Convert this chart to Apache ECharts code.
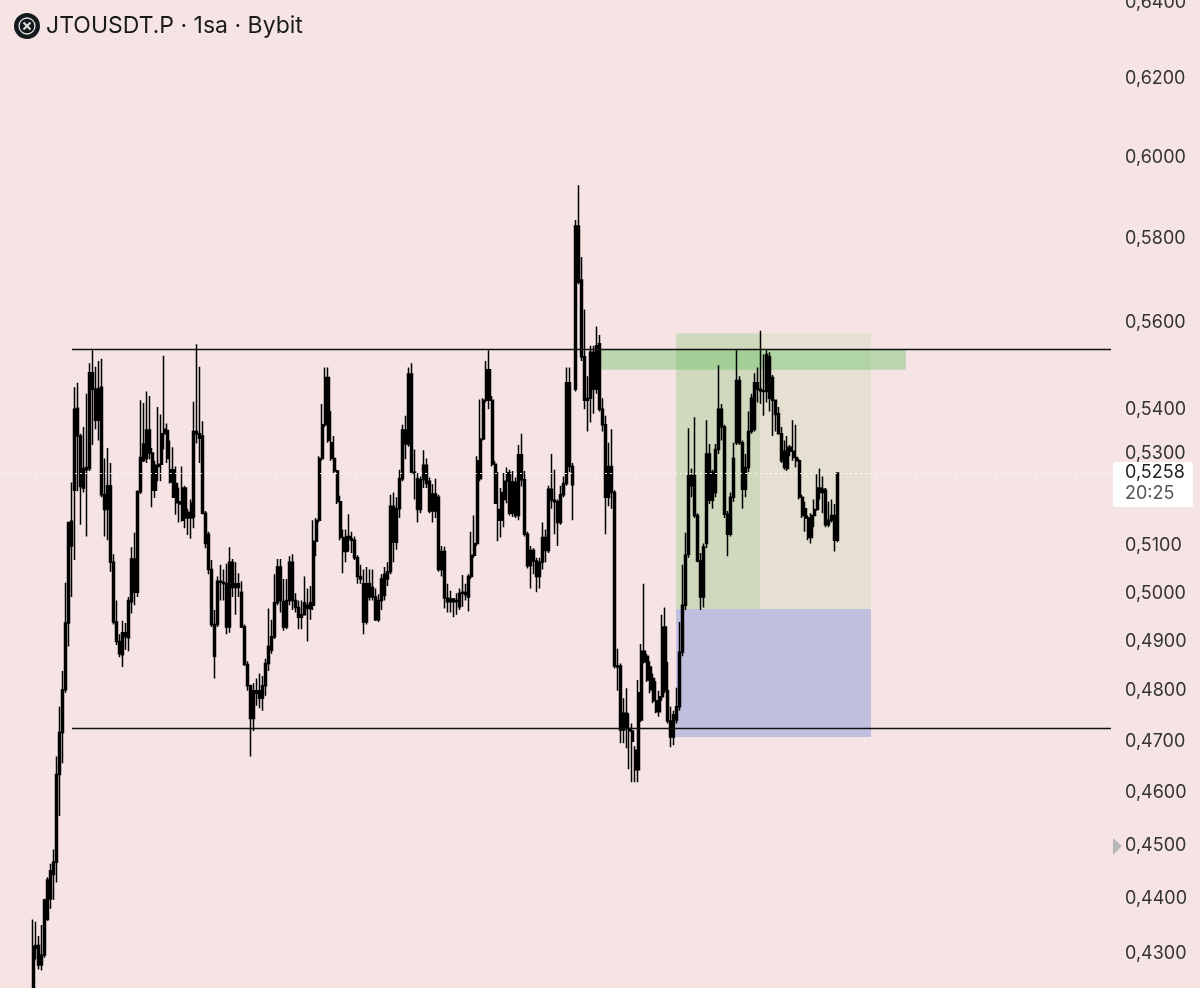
<!DOCTYPE html>
<html><head><meta charset="utf-8">
<style>html,body{margin:0;padding:0;background:#f6e4e4}#c{width:1200px;height:988px}</style>
<script src="https://cdn.jsdelivr.net/npm/echarts@6/dist/echarts.min.js"></script>
</head><body><div id="c"></div>
<script>
const title = 'JTOUSDT.P · 1sa · Bybit';
const tickValues = [0.64,0.62,0.60,0.58,0.56,0.54,0.53,0.51,0.50,0.49,0.48,0.47,0.46,0.45,0.44,0.43];
const lastPrice = 0.5258;
const lastPriceLabel = '0,5258';
const countdown = '20:25';
const resistance = 0.5538;
const support = 0.4726;
const opens = [
.4200,.4315,.4315,.4298,.4298,.4362,.4400,.4445,.4468,.4635,
.4717,.4802,.4938,.5100,.5220,.5340,.5340,.5268,.5270,.5268,
.5445,.5445,.5375,.5450,.5210,.5178,.5230,.5065,.4940,.4900,
.4873,.4918,.4908,.4982,.5072,.5002,.5217,.5285,.5290,.5353,
.5302,.5220,.5277,.5277,.5345,.5352,.5265,.5265,.5235,.5195,
.5155,.5225,.5172,.5160,.5162,.5350,.5345,.5340,.5170,.5125,
.5050,.4935,.4935,.5025,.5023,.5020,.4930,.5065,.5012,.5020,
.5002,.4930,.4853,.4810,.4745,.4795,.4800,.4785,.4810,.4855,
.4882,.4910,.4980,.5055,.4982,.4930,.4985,.5065,.4985,.4970,
.4950,.4955,.4975,.4968,.4975,.5110,.5155,.5290,.5365,.5472,
.5325,.5290,.5262,.5195,.5118,.5088,.5120,.5115,.5112,.5075,
.5035,.5020,.4940,.5020,.4992,.4992,.4945,.4985,.4995,.5030,
.5045,.5185,.5108,.5180,.5245,.5353,.5322,.5480,.5260,.5245,
.5178,.5243,.5275,.5240,.5175,.5212,.5205,.5050,.5088,.4990,
.4982,.4988,.4982,.4972,.5000,.5002,.4992,.5035,.5080,.5105,.5245,
.5333,.5420,.5490,.5420,.5277,.5178,.5155,.5200,.5240,.5258,
.5170,.5238,.5165,.5298,.5243,.5125,.5058,.5090,.5068,.5035,
.5065,.5118,.5090,.5222,.5198,.5195,.5150,.5210,.5235,.5460,
.5272,.5445,.5830,.5700,.5520,.5420,.5425,.5530,.5445,.5550,
.5400,.5365,.5205,.5272,.5215,.4850,.4850,.4722,.4755,
.4725,.4720,.4682,.4644,.4742,.4880,.4870,.4848,.4825,.4780,
.4758,.4788,.4930,.4800,.4740,.4708,.4742,.4768,.4878,.4975,
.5082,.5252,.5165,.5165,.5068,.4992,.5105,.5300,.5198,.5215,
.5310,.5400,.5360,.5168,.5125,.5205,.5325,.5465,.5325,.5222,
.5270,.5350,.5355,.5460,.5445,.5442,.5440,.5520,.5472,.5420,
.5390,.5345,.5270,.5268,.5315,.5306,.5292,.5285,.5205,.5180,
.5160,.5118,.5165,.5178,.5225,.5215,.5220,.5145,.5155,.5165,.5112];
const closes = [
.4313,.4310,.4280,.4280,.4398,.4435,.4452,.4468,.4635,.4717,
.4802,.4938,.5150,.5153,.5400,.5402,.5228,.5225,.5265,.5483,
.5483,.5375,.5447,.5210,.5178,.5230,.5065,.4940,.4900,.4875,
.4918,.4910,.4985,.5072,.5002,.5217,.5292,.5322,.5353,.5302,
.5220,.5275,.5272,.5345,.5355,.5290,.5238,.5205,.5193,.5190,
.5225,.5160,.5160,.5192,.5350,.5345,.5335,.5170,.5105,.5050,
.4935,.4870,.5025,.5023,.5020,.4930,.5065,.5012,.5020,.5012,
.4930,.4853,.4810,.4745,.4800,.4800,.4785,.4810,.4855,.4890,
.4910,.4980,.5055,.4985,.4930,.4985,.5065,.4985,.4970,.4950,
.4955,.4980,.4968,.4980,.5110,.5155,.5290,.5365,.5472,.5330,
.5290,.5262,.5195,.5118,.5088,.5120,.5115,.5112,.5075,.5035,
.5030,.4940,.5020,.4992,.5012,.4945,.4985,.5030,.5040,.5045,
.5185,.5108,.5180,.5245,.5353,.5322,.5480,.5260,.5258,.5178,
.5243,.5275,.5235,.5175,.5212,.5175,.5050,.5088,.4990,.4982,
.4988,.4982,.4985,.5000,.5002,.4997,.5035,.5080,.5105,.5285,.5333,
.5420,.5490,.5420,.5277,.5192,.5155,.5215,.5240,.5258,.5170,
.5238,.5165,.5298,.5243,.5125,.5058,.5090,.5068,.5035,.5065,
.5118,.5090,.5222,.5198,.5195,.5150,.5210,.5235,.5460,.5272,
.5232,.5830,.5695,.5520,.5420,.5425,.5530,.5445,.5545,.5400,
.5365,.5205,.5272,.5215,.4850,.4848,.4722,.4755,.4725,
.4720,.4700,.4644,.4796,.4880,.4858,.4822,.4802,.4780,.4758,
.4788,.4930,.4800,.4740,.4708,.4752,.4768,.4878,.4975,.5080,
.5252,.5230,.5252,.5068,.4992,.5098,.5300,.5198,.5260,.5310,
.5400,.5360,.5168,.5125,.5205,.5290,.5465,.5325,.5222,.5270,
.5350,.5425,.5460,.5445,.5442,.5440,.5525,.5425,.5420,.5388,
.5345,.5285,.5306,.5315,.5306,.5292,.5285,.5205,.5165,.5160,
.5118,.5165,.5178,.5225,.5215,.5222,.5145,.5155,.5165,.5112,.5258];
const lows = [
.4180,.4290,.4272,.4270,.4293,.4360,.4382,.4398,.4430,.4555,
.4657,.4796,.4890,.4992,.5070,.5218,.5145,.5215,.5120,.5262,
.5320,.5355,.5330,.5205,.5120,.5112,.5045,.4935,.4893,.4868,
.4848,.4883,.4880,.4958,.4975,.4992,.5212,.5282,.5280,.5288,
.5183,.5203,.5240,.5240,.5310,.5280,.5235,.5205,.5167,.5150,
.5152,.5138,.5123,.5115,.5138,.5323,.5280,.5168,.5095,.5040,
.4930,.4825,.4930,.4985,.4985,.4915,.4918,.4992,.4955,.4992,
.4928,.4850,.4800,.4670,.4720,.4770,.4765,.4760,.4790,.4840,
.4875,.4905,.4975,.4960,.4922,.4925,.4975,.4965,.4960,.4925,
.4925,.4960,.4900,.4945,.4965,.5078,.5150,.5285,.5360,.5325,
.5285,.5258,.5190,.5112,.5042,.5065,.5088,.5085,.5070,.5020,
.5020,.4915,.4935,.4985,.4985,.4942,.4940,.4965,.4985,.5015,
.5040,.5065,.5092,.5160,.5240,.5288,.5316,.5255,.5200,.5150,
.5170,.5225,.5225,.5170,.5150,.5160,.5045,.5035,.4968,.4960,
.4960,.4950,.4955,.4965,.4972,.4985,.4962,.5030,.5075,.5100,.5240,
.5330,.5415,.5400,.5272,.5190,.5110,.5118,.5140,.5192,.5165,
.5162,.5160,.5155,.5228,.5120,.5052,.5010,.5040,.5002,.5010,
.5050,.5065,.5085,.5180,.5125,.5100,.5145,.5205,.5230,.5260,
.5155,.5440,.5690,.5510,.5400,.5350,.5370,.5390,.5435,.5395,
.5350,.5125,.5185,.5180,.4845,.4800,.4696,.4696,.4686,
.4645,.4620,.4620,.4620,.4738,.4855,.4818,.4795,.4775,.4755,
.4748,.4780,.4795,.4735,.4688,.4692,.4735,.4760,.4870,.4965,
.5075,.5205,.5160,.5065,.4965,.4970,.5095,.5190,.5180,.5205,
.5300,.5330,.5160,.5078,.5120,.5195,.5320,.5320,.5180,.5205,
.5260,.5345,.5350,.5415,.5412,.5385,.5415,.5395,.5340,.5350,
.5345,.5280,.5265,.5262,.5295,.5285,.5270,.5200,.5160,.5130,
.5112,.5105,.5140,.5175,.5200,.5170,.5140,.5140,.5150,.5088,.5108];
const highs = [
.4362,.4358,.4332,.4352,.4400,.4440,.4465,.4492,.4670,.4768,
.4840,.5022,.5150,.5237,.5450,.5460,.5345,.5360,.5435,.5505,
.5535,.5497,.5510,.5515,.5290,.5313,.5280,.5082,.4985,.4915,
.4943,.4938,.4992,.5097,.5128,.5220,.5420,.5414,.5440,.5430,
.5313,.5285,.5405,.5388,.5522,.5368,.5330,.5315,.5272,.5226,
.5272,.5230,.5180,.5200,.5417,.5549,.5497,.5373,.5175,.5130,
.5070,.4965,.5035,.5060,.5050,.5062,.5097,.5072,.5065,.5042,
.5025,.4935,.4860,.4812,.4815,.4825,.4835,.4830,.4865,.4968,
.4945,.5040,.5072,.5072,.5030,.5030,.5078,.5082,.5000,.4985,
.4985,.5035,.5010,.5015,.5155,.5160,.5295,.5412,.5495,.5495,
.5396,.5340,.5265,.5208,.5135,.5135,.5168,.5130,.5120,.5080,
.5060,.5050,.5055,.5050,.5050,.5010,.4998,.5040,.5055,.5065,
.5210,.5215,.5205,.5265,.5365,.5385,.5495,.5505,.5310,.5258,
.5250,.5308,.5290,.5248,.5233,.5245,.5210,.5100,.5098,.5020,
.5005,.4990,.5000,.5010,.5038,.5020,.5040,.5130,.5165,.5295,.5422,
.5425,.5510,.5535,.5430,.5285,.5260,.5225,.5258,.5270,.5265,
.5262,.5248,.5320,.5345,.5262,.5130,.5100,.5095,.5075,.5075,
.5150,.5135,.5230,.5300,.5265,.5200,.5230,.5250,.5495,.5495,
.5280,.5845,.5930,.5755,.5630,.5475,.5545,.5545,.5590,.5570,
.5425,.5385,.5325,.5355,.5220,.4885,.4855,.4785,.4805,
.4755,.4735,.4690,.4822,.4895,.5020,.4875,.4860,.4835,.4820,
.4800,.4955,.4970,.4858,.4768,.4760,.4806,.4940,.5060,.5128,
.5357,.5268,.5382,.5170,.5085,.5105,.5375,.5322,.5265,.5322,
.5500,.5412,.5365,.5175,.5215,.5325,.5535,.5475,.5330,.5300,
.5395,.5435,.5482,.5495,.5580,.5525,.5535,.5530,.5478,.5422,
.5405,.5360,.5330,.5340,.5320,.5375,.5365,.5290,.5210,.5195,
.5165,.5170,.5200,.5255,.5268,.5250,.5225,.5195,.5200,.5190,.5258];

// bar-index span of each drawn zone, with its price span
const stripZone = {from: 189.5, to: 292.8, top: 0.5538, bottom: 0.5490};
const tanZone   = {from: 215.7, to: 281.1, top: 0.5574, bottom: 0.4967};
const greenZone = {from: 215.7, to: 243.8, top: 0.5574, bottom: 0.4967};
const blueZone  = {from: 215.7, to: 281.1, top: 0.4967, bottom: 0.4708};
const lineStart = 13.1;
const xMin = -11.07, xMax = 361.6;

const candleData = opens.map((o,i)=>[i,o,closes[i],lows[i],highs[i]]);
const area = (z,color)=>[{coord:[z.from,z.top],itemStyle:{color}},{coord:[z.to,z.bottom]}];
const hline = (p,from,style)=>[{coord:[from,p],lineStyle:style},{coord:[xMax,p]}];

const chart = echarts.init(document.getElementById('c'),null,{renderer:'canvas'});
chart.setOption({
  animation:false,
  backgroundColor:'#f6e4e4',
  title:{text:title,left:41,top:10,textStyle:{fontFamily:'Inter',fontWeight:400,fontSize:23,color:'#1a1a1a'}},
  grid:{left:0,top:0,width:1111,height:988,outerBoundsMode:'none'},
  xAxis:{type:'value',min:xMin,max:xMax,show:false,splitLine:{show:false}},
  yAxis:{type:'log',logBase:10,min:0.4239,max:0.6408,position:'right',
    axisLine:{show:false},axisTick:{show:false},splitLine:{show:false},minorSplitLine:{show:false},
    axisLabel:{customValues:tickValues,margin:14,align:'left',showMinLabel:true,showMaxLabel:true,
      fontFamily:'Inter',fontSize:18,color:'#333',padding:[3,0,0,0],
      formatter:v=>Number(v).toFixed(4).replace('.',',')}},
  series:[{
    type:'candlestick',
    data:candleData,
    encode:{x:0,y:[1,2,3,4]},
    barWidth:2.5,
    clip:true,
    silent:true,
    z:3,
    itemStyle:{color:'#000',color0:'#000',borderColor:'#000',borderColor0:'#000',borderWidth:1.5},
    markArea:{silent:true,z:1,data:[area(tanZone,'rgba(190,215,170,0.3)'),area(greenZone,'rgba(120,190,110,0.2)'),area(blueZone,'rgba(116,135,215,0.4)'),area(stripZone,'rgba(80,190,80,0.35)')]},
    markLine:{silent:true,symbol:'none',label:{show:false},animation:false,data:[
      hline(lastPrice,xMin,{color:'#fff',width:1,type:[2,3],opacity:0.9}),
      hline(resistance,lineStart,{color:'#111',width:1.3,type:'solid'}),
      hline(support,lineStart,{color:'#111',width:1.3,type:'solid'})
    ]}
  }],
  graphic:[
    {type:'circle',shape:{cx:27,cy:26,r:13},style:{fill:'#14191c'}},
    {type:'circle',shape:{cx:27,cy:26,r:8},style:{fill:'none',stroke:'#e4e4e4',lineWidth:1.3}},
    {type:'line',shape:{x1:23.5,y1:22.5,x2:30.5,y2:29.5},style:{stroke:'#e4e4e4',lineWidth:2}},
    {type:'line',shape:{x1:30.5,y1:22.5,x2:23.5,y2:29.5},style:{stroke:'#e4e4e4',lineWidth:2}},
    {type:'polygon',shape:{points:[[1113,838],[1122,846],[1113,855]]},style:{fill:'#b8b8b8'}},
    {type:'rect',shape:{x:1113,y:462,width:80,height:45,r:2},z:10,style:{fill:'#fff'}},
    {type:'text',x:1125,y:473,z:11,style:{text:lastPriceLabel,fill:'#222',fontFamily:'Inter',fontSize:18,verticalAlign:'middle'}},
    {type:'text',x:1125,y:494,z:11,style:{text:countdown,fill:'#555',fontFamily:'Inter',fontSize:18,verticalAlign:'middle'}}
  ]
});
</script></body></html>
